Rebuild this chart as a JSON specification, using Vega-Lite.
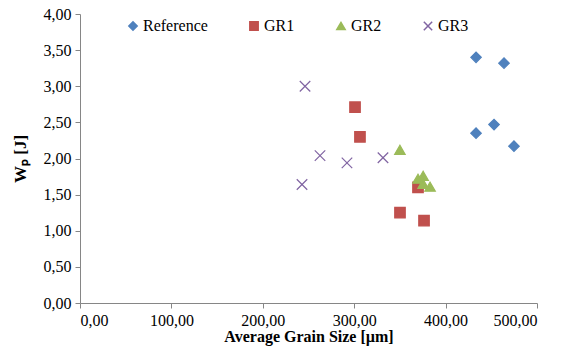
{
  "$schema": "https://vega.github.io/schema/vega-lite/v6.json",
  "width": 457,
  "height": 289,
  "autosize": "none",
  "padding": {"left": 80, "top": 14, "right": 26, "bottom": 50},
  "background": "white",
  "data": {
    "values": [
      {"group": "Reference", "size": 433.3, "wp": 3.40},
      {"group": "Reference", "size": 463.9, "wp": 3.32},
      {"group": "Reference", "size": 433.3, "wp": 2.35},
      {"group": "Reference", "size": 453.0, "wp": 2.47},
      {"group": "Reference", "size": 474.8, "wp": 2.17},
      {"group": "GR1", "size": 300.9, "wp": 2.71},
      {"group": "GR1", "size": 306.3, "wp": 2.30},
      {"group": "GR1", "size": 369.8, "wp": 1.60},
      {"group": "GR1", "size": 350.1, "wp": 1.25},
      {"group": "GR1", "size": 376.4, "wp": 1.14},
      {"group": "GR2", "size": 350.0, "wp": 2.12},
      {"group": "GR2", "size": 369.8, "wp": 1.72},
      {"group": "GR2", "size": 375.4, "wp": 1.76},
      {"group": "GR2", "size": 383.0, "wp": 1.61},
      {"group": "GR2", "size": 375.4, "wp": 1.65},
      {"group": "GR3", "size": 246.2, "wp": 3.00},
      {"group": "GR3", "size": 262.6, "wp": 2.04},
      {"group": "GR3", "size": 292.1, "wp": 1.94},
      {"group": "GR3", "size": 331.5, "wp": 2.01},
      {"group": "GR3", "size": 242.9, "wp": 1.64}
    ]
  },
  "mark": {"type": "point", "filled": true, "opacity": 1, "size": 110, "strokeWidth": 1.2},
  "encoding": {
    "x": {
      "field": "size", "type": "quantitative",
      "scale": {"domain": [0, 500], "nice": false},
      "axis": {
        "title": "Average Grain Size [µm]",
        "values": [0, 100, 200, 300, 400, 500],
        "labelExpr": "replace(format(datum.value, '.2f'), '.', ',')",
        "grid": false,
        "domainColor": "#868686", "tickColor": "#868686", "tickSize": 5,
        "labelFont": "Liberation Serif", "labelFontSize": 16, "labelColor": "#000000",
        "labelPadding": 4,
        "titleFont": "Liberation Serif", "titleFontSize": 16, "titleFontWeight": "bold", "titleColor": "#000000",
        "titlePadding": 0
      }
    },
    "y": {
      "field": "wp", "type": "quantitative",
      "scale": {"domain": [0, 4], "nice": false},
      "axis": {
        "title": "Wₚ [J]",
        "values": [0, 0.5, 1, 1.5, 2, 2.5, 3, 3.5, 4],
        "labelExpr": "replace(format(datum.value, '.2f'), '.', ',')",
        "grid": false,
        "domainColor": "#868686", "tickColor": "#868686", "tickSize": 5,
        "labelFont": "Liberation Serif", "labelFontSize": 16, "labelColor": "#000000",
        "labelPadding": 4,
        "titleFont": "Liberation Serif", "titleFontSize": 17, "titleFontWeight": "bold", "titleColor": "#000000",
        "titlePadding": 14
      }
    },
    "color": {
      "field": "group", "type": "nominal",
      "scale": {"domain": ["Reference", "GR1", "GR2", "GR3"], "range": ["#4F81BD", "#C0504D", "#9BBB59", "#8064A2"]},
      "legend": {
        "title": null, "orient": "none", "direction": "horizontal",
        "legendX": 45, "legendY": 4,
        "labelFont": "Liberation Serif", "labelFontSize": 16, "labelColor": "#000000",
        "columnPadding": 38, "symbolSize": 70, "labelOffset": 2
      }
    },
    "stroke": {
      "field": "group", "type": "nominal",
      "scale": {"domain": ["Reference", "GR1", "GR2", "GR3"], "range": ["#4F81BD", "#C0504D", "#9BBB59", "#8064A2"]},
      "legend": {
        "title": null, "orient": "none", "direction": "horizontal",
        "legendX": 45, "legendY": 4,
        "labelFont": "Liberation Serif", "labelFontSize": 16, "labelColor": "#000000",
        "columnPadding": 38, "symbolSize": 70, "labelOffset": 2
      }
    },
    "shape": {
      "field": "group", "type": "nominal",
      "scale": {"domain": ["Reference", "GR1", "GR2", "GR3"], "range": ["diamond", "square", "triangle-up", "M-1,-1L1,1M-1,1L1,-1"]},
      "legend": {
        "title": null, "orient": "none", "direction": "horizontal",
        "legendX": 45, "legendY": 4,
        "labelFont": "Liberation Serif", "labelFontSize": 16, "labelColor": "#000000",
        "columnPadding": 38, "symbolSize": 70, "labelOffset": 2
      }
    }
  },
  "config": {"view": {"stroke": null}, "font": "Liberation Serif"}
}
